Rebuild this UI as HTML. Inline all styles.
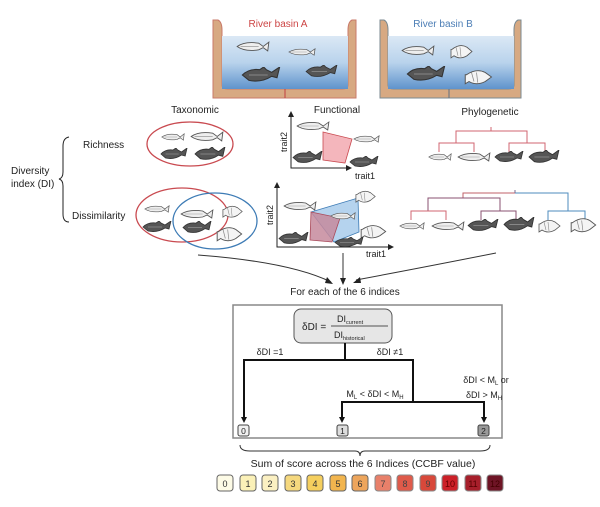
<!DOCTYPE html>
<html><head><meta charset="utf-8"><style>
html,body{margin:0;padding:0;background:#fff;}
svg{display:block;font-family:"Liberation Sans",sans-serif;}
</style></head><body>
<svg width="600" height="507" viewBox="0 0 600 507" xmlns="http://www.w3.org/2000/svg">
<defs>
<linearGradient id="wa" x1="0" y1="0" x2="0" y2="1">
<stop offset="0" stop-color="#dbe8f5"/><stop offset="0.5" stop-color="#b9d3ec"/><stop offset="1" stop-color="#5f93cc"/></linearGradient>
<symbol id="fl" viewBox="0 0 30 10" preserveAspectRatio="none"><path d="M1 5 Q8 0 20 2 L24 5 L29 1 L28 9 L24 6 L20 8 Q8 10 1 5Z" fill="#eee" stroke="#555" stroke-width="0.8"/><path d="M4 5 L20 5" stroke="#999" stroke-width="0.6"/></symbol>
<symbol id="fd" viewBox="0 0 30 12" preserveAspectRatio="none"><path d="M1 6 Q6 1 14 2 L17 0 L19 2 L23 4 L29 0 L27 8 L23 7 Q15 12 6 10 Z" fill="#555" stroke="#333" stroke-width="0.8"/><path d="M6 6 L20 6" stroke="#999" stroke-width="0.6"/></symbol>
<symbol id="fc" viewBox="0 0 24 16" preserveAspectRatio="none"><path d="M2 6 Q10 0 17 4 L22 8 L17 12 Q10 16 4 12 L1 14 L1 6Z" fill="#f4f4f4" stroke="#555" stroke-width="0.8"/><path d="M6 4 L8 12 M10 4 L11 13" stroke="#888" stroke-width="0.6"/></symbol>
</defs>

<!-- basin A -->
<path d="M213 20 L218 20 Q222 22 222 30 L222 85 Q222 89 228 89 L342 89 Q348 89 348 85 L348 30 Q348 22 352 20 L356 20 L356 98 L213 98 Z" fill="#d7a982" stroke="#c97a6a" stroke-width="1"/>
<rect x="222" y="36" width="126" height="53" fill="url(#wa)"/>
<line x1="285" y1="89" x2="285" y2="98" stroke="#c04040" stroke-width="1"/>
<text x="278" y="27" font-size="10" fill="#cc4444" text-anchor="middle">River basin A</text>
<use href="#fl" x="236" y="41" width="34" height="11"/>
<use href="#fl" x="288" y="48" width="28" height="8"/>
<use href="#fd" x="241" y="67" width="40" height="16"/>
<use href="#fd" x="305" y="65" width="33" height="13"/>
<!-- basin B -->
<path d="M380 20 L384 20 Q388 22 388 30 L388 85 Q388 89 394 89 L508 89 Q514 89 514 85 L514 30 Q514 22 518 20 L521 20 L521 98 L380 98 Z" fill="#d7a982" stroke="#7b8a92" stroke-width="1"/>
<rect x="388" y="36" width="126" height="53" fill="url(#wa)"/>
<line x1="449" y1="89" x2="449" y2="98" stroke="#607080" stroke-width="1"/>
<text x="443" y="27" font-size="10" fill="#4b7db5" text-anchor="middle">River basin B</text>
<use href="#fl" x="401" y="45" width="34" height="11"/>
<use href="#fc" x="450" y="43" width="24" height="17"/>
<use href="#fd" x="406" y="66" width="40" height="16"/>
<use href="#fc" x="464" y="68" width="30" height="18"/>

<!-- headers -->
<text x="195" y="113" font-size="10" fill="#222" text-anchor="middle">Taxonomic</text>
<text x="337" y="113" font-size="10" fill="#222" text-anchor="middle">Functional</text>
<text x="490" y="115" font-size="10" fill="#222" text-anchor="middle">Phylogenetic</text>

<!-- left labels -->
<text x="83" y="148" font-size="10" fill="#222">Richness</text>
<text x="11" y="174" font-size="10" fill="#222">Diversity</text>
<text x="11" y="187" font-size="10" fill="#222">index (DI)</text>
<text x="72" y="219" font-size="10" fill="#222">Dissimilarity</text>
<path d="M69 137 Q63 138 63 146 L63 172 Q63 178 59 179 Q63 180 63 186 L63 214 Q63 222 69 222" fill="none" stroke="#222" stroke-width="1"/>

<!-- taxonomic -->
<ellipse cx="190" cy="144" rx="43" ry="22" fill="none" stroke="#c94a50" stroke-width="1.3"/>
<use href="#fl" x="161" y="133" width="24" height="8"/>
<use href="#fl" x="190" y="131" width="34" height="11"/>
<use href="#fd" x="160" y="148" width="28" height="12"/>
<use href="#fd" x="194" y="147" width="32" height="14"/>
<ellipse cx="182" cy="215" rx="46" ry="27" fill="none" stroke="#c94a50" stroke-width="1.3"/>
<ellipse cx="215" cy="221" rx="42" ry="28" fill="none" stroke="#3d7bb5" stroke-width="1.3"/>
<use href="#fl" x="144" y="205" width="26" height="8"/>
<use href="#fd" x="142" y="221" width="30" height="12"/>
<use href="#fl" x="180" y="209" width="34" height="10"/>
<use href="#fd" x="182" y="221" width="30" height="13"/>
<use href="#fc" x="222" y="204" width="22" height="15"/>
<use href="#fc" x="216" y="225" width="28" height="18"/>

<!-- functional plot 1 -->
<path d="M291 113 L291 168 L350 168" fill="none" stroke="#222" stroke-width="1"/>
<path d="M288 117 L291 111 L294 117Z" fill="#222"/><path d="M346 165 L352 168 L346 171Z" fill="#222"/>
<text x="287" y="142" font-size="9" fill="#222" transform="rotate(-90 287 142)" text-anchor="middle">trait2</text>
<text x="355" y="179" font-size="9" fill="#222">trait1</text>
<path d="M323 132 L352 139 L345 163 L323 160Z" fill="#f4b6bc" stroke="#c94a50" stroke-width="0.8"/>
<use href="#fl" x="296" y="121" width="34" height="10"/>
<use href="#fl" x="353" y="135" width="27" height="8"/>
<use href="#fd" x="292" y="151" width="31" height="13"/>
<use href="#fd" x="349" y="156" width="30" height="12"/>
<!-- functional plot 2 -->
<path d="M277 184 L277 247 L392 247" fill="none" stroke="#222" stroke-width="1"/>
<path d="M274 188 L277 182 L280 188Z" fill="#222"/><path d="M388 244 L394 247 L388 250Z" fill="#222"/>
<text x="273" y="215" font-size="9" fill="#222" transform="rotate(-90 273 215)" text-anchor="middle">trait2</text>
<text x="366" y="257" font-size="9" fill="#222">trait1</text>
<path d="M311 212 L358 198 L359 232 L334 242Z" fill="#b5d3ee" stroke="#3d7bb5" stroke-width="0.8"/>
<path d="M311 212 L340 218 L332 242 L310 240Z" fill="#c58a9c" fill-opacity="0.85" stroke="#a94a5a" stroke-width="0.8"/>
<use href="#fl" x="283" y="201" width="34" height="10"/>
<use href="#fc" x="355" y="189" width="22" height="15"/>
<use href="#fl" x="330" y="212" width="26" height="8"/>
<use href="#fd" x="278" y="232" width="31" height="13"/>
<use href="#fc" x="360" y="223" width="28" height="17"/>
<use href="#fd" x="334" y="237" width="30" height="11"/>

<!-- phylo tree 1 -->
<g fill="none" stroke-width="1" stroke="#d06670">
<path d="M491 127 L491 131 M456 143 L456 131 L527 131 L527 143"/>
<path d="M439 152 L439 143 L474 143 L474 152 M509 152 L509 143 L545 143 L545 152"/>
</g>
<use href="#fl" x="428" y="153" width="24" height="8"/>
<use href="#fl" x="457" y="152" width="34" height="10"/>
<use href="#fd" x="494" y="151" width="30" height="12"/>
<use href="#fd" x="528" y="150" width="32" height="14"/>
<!-- phylo tree 2 -->
<g fill="none" stroke-width="1">
<path d="M463 198 L463 193 L515 193" stroke="#c0606a"/>
<path d="M515 193 L568 193 L568 211" stroke="#4d8bbd"/>
<path d="M515 190 L515 193" stroke="#7a6a90"/>
<path d="M428 211 L428 198 L500 198 L500 211" stroke="#8a5070"/>
<path d="M411 220 L411 211 L446 211 L446 220" stroke="#d06670"/>
<path d="M481 220 L481 211 L516 211 L516 220" stroke="#8a5070"/>
<path d="M548 220 L548 211 L585 211 L585 220" stroke="#4d8bbd"/>
</g>
<use href="#fl" x="399" y="222" width="26" height="8"/>
<use href="#fl" x="431" y="221" width="34" height="10"/>
<use href="#fd" x="467" y="219" width="32" height="13"/>
<use href="#fd" x="503" y="217" width="32" height="15"/>
<use href="#fc" x="538" y="218" width="24" height="16"/>
<use href="#fc" x="570" y="216" width="28" height="18"/>

<!-- converging arrows -->
<path d="M198 255 Q290 262 331 282" fill="none" stroke="#333" stroke-width="1"/>
<path d="M327 277 L333 284 L325 283Z" fill="#222"/>
<line x1="343" y1="253" x2="343" y2="280" stroke="#333" stroke-width="1"/>
<path d="M340 278 L343 285 L346 278Z" fill="#222"/>
<path d="M496 253 Q420 268 356 280" fill="none" stroke="#333" stroke-width="1"/>
<path d="M360 277 L353 283 L361 283Z" fill="#222"/>
<text x="345" y="295" font-size="10" fill="#222" text-anchor="middle">For each of the 6 indices</text>

<!-- decision box -->
<rect x="233" y="305" width="269" height="133" fill="#fff" stroke="#888" stroke-width="1.5"/>
<rect x="294" y="309" width="98" height="34" rx="7" fill="#e6e6e6" stroke="#555" stroke-width="1"/>
<text x="302" y="330" font-size="10" fill="#222">δDI =</text>
<line x1="331" y1="326" x2="388" y2="326" stroke="#222" stroke-width="0.8"/>
<text x="337" y="322" font-size="9" fill="#222">DI<tspan font-size="5.5" dy="2">current</tspan></text>
<text x="334" y="338" font-size="9" fill="#222">DI<tspan font-size="5.5" dy="2">historical</tspan></text>
<g fill="none" stroke="#111" stroke-width="2">
<path d="M345 343 L345 360 M244 360 L413 360 L413 402 M244 359 L244 418"/>
<path d="M342 402 L484 402 M342 401 L342 418 M484 401 L484 418"/>
</g>
<path d="M241 417 L244 423 L247 417Z" fill="#111"/>
<path d="M339 417 L342 423 L345 417Z" fill="#111"/>
<path d="M481 417 L484 423 L487 417Z" fill="#111"/>
<text x="270" y="355" font-size="9" fill="#222" text-anchor="middle">δDI =1</text>
<text x="390" y="355" font-size="9" fill="#222" text-anchor="middle">δDI ≠1</text>
<text x="375" y="397" font-size="9" fill="#222" text-anchor="middle">M<tspan font-size="6" dy="2">L</tspan><tspan dy="-2"> &lt; δDI &lt; M</tspan><tspan font-size="6" dy="2">H</tspan></text>
<text x="486" y="383" font-size="9" fill="#222" text-anchor="middle">δDI &lt; M<tspan font-size="6" dy="2">L</tspan><tspan dy="-2"> or</tspan></text>
<text x="484" y="398" font-size="9" fill="#222" text-anchor="middle">δDI &gt; M<tspan font-size="6" dy="2">H</tspan></text>
<rect x="238" y="425" width="11" height="11" rx="2" fill="#f0f0f0" stroke="#444"/>
<text x="243.5" y="434" font-size="8.5" fill="#222" text-anchor="middle">0</text>
<rect x="337" y="425" width="11" height="11" rx="2" fill="#ddd" stroke="#444"/>
<text x="342.5" y="434" font-size="8.5" fill="#222" text-anchor="middle">1</text>
<rect x="478" y="425" width="11" height="11" rx="2" fill="#999" stroke="#444"/>
<text x="483.5" y="434" font-size="8.5" fill="#222" text-anchor="middle">2</text>

<!-- bottom brace -->
<path d="M240 445 Q240 451 250 451 L355 451 Q360 451 360 456 Q360 451 365 451 L480 451 Q490 451 490 445" fill="none" stroke="#333" stroke-width="1"/>
<text x="363" y="467" font-size="10.5" fill="#222" text-anchor="middle">Sum of score across the 6 Indices (CCBF value)</text>

<!-- scale -->
<g font-size="9" text-anchor="middle" stroke-width="1">
<rect x="217" y="475" width="16" height="16" rx="3" fill="#fdfbe6" stroke="#666"/><text x="225" y="487" fill="#333">0</text>
<rect x="240" y="475" width="16" height="16" rx="3" fill="#fbf1b8" stroke="#666"/><text x="248" y="487" fill="#333">1</text>
<rect x="262" y="475" width="16" height="16" rx="3" fill="#fbf0c2" stroke="#666"/><text x="270" y="487" fill="#333">2</text>
<rect x="285" y="475" width="16" height="16" rx="3" fill="#f5d87e" stroke="#666"/><text x="293" y="487" fill="#333">3</text>
<rect x="307" y="475" width="16" height="16" rx="3" fill="#f5cf5e" stroke="#666"/><text x="315" y="487" fill="#333">4</text>
<rect x="330" y="475" width="16" height="16" rx="3" fill="#f2b54e" stroke="#666"/><text x="338" y="487" fill="#333">5</text>
<rect x="352" y="475" width="16" height="16" rx="3" fill="#eda55c" stroke="#666"/><text x="360" y="487" fill="#333">6</text>
<rect x="375" y="475" width="16" height="16" rx="3" fill="#e8806a" stroke="#888"/><text x="383" y="487" fill="#444">7</text>
<rect x="397" y="475" width="16" height="16" rx="3" fill="#df5a4a" stroke="#888"/><text x="405" y="487" fill="#444">8</text>
<rect x="420" y="475" width="16" height="16" rx="3" fill="#d8483a" stroke="#888"/><text x="428" y="487" fill="#444">9</text>
<rect x="442" y="475" width="16" height="16" rx="3" fill="#cc2028" stroke="#888"/><text x="450" y="487" fill="#600">10</text>
<rect x="465" y="475" width="16" height="16" rx="3" fill="#a71f2b" stroke="#888"/><text x="473" y="487" fill="#500">11</text>
<rect x="487" y="475" width="16" height="16" rx="3" fill="#6e1425" stroke="#888"/><text x="495" y="487" fill="#400">12</text>
</g>
</svg>
</body></html>
